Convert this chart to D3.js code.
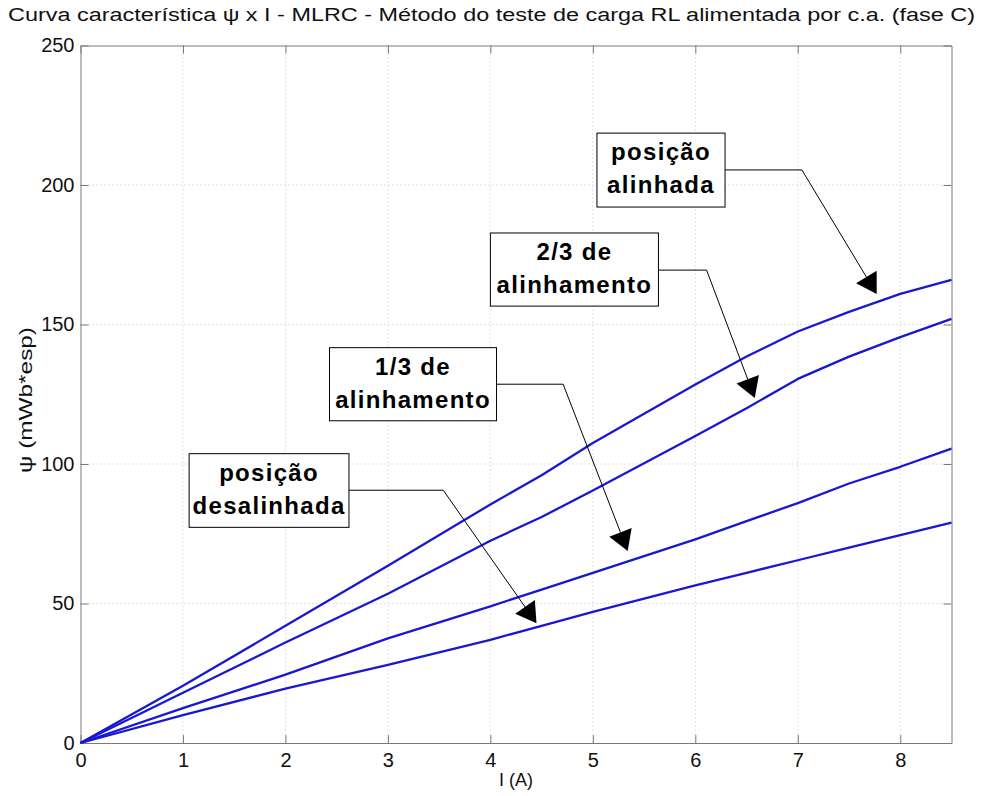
<!DOCTYPE html>
<html>
<head>
<meta charset="utf-8">
<script src="https://cdn.jsdelivr.net/npm/d3@7"></script>
<style>
  body { margin: 0; background: #fff; }
  svg { font-family: "Liberation Sans", Arial, sans-serif; }
</style>
</head>
<body>
<div id="chart"></div>
<script>
// corrente (A) e fluxo concatenado (mWb*esp)
var current = [0, 1, 2, 3, 4, 4.5, 5, 6, 6.5, 7, 7.5, 8, 8.5];
var fluxAligned = [0, 20.5, 42, 63.5, 85.5, 96, 107.5, 128.5, 138.5, 147.5, 154.5, 161, 166];
var fluxTwoThirds = [0, 18, 36, 53.5, 72.5, 81, 90.5, 110, 120, 130.5, 138.5, 145.5, 152];
var fluxOneThird = [0, 12.5, 24.5, 37.5, 49, 55, 61, 73, 79.5, 86, 93, 99, 105.5];
var fluxUnaligned = [0, 10, 19.5, 28, 37, 42, 47, 56.5, 61, 65.5, 70, 74.5, 79];

var xTicks = [0, 1, 2, 3, 4, 5, 6, 7, 8];
var yTicks = [0, 50, 100, 150, 200, 250];

// caixas de texto com seta (em unidades dos eixos)
var notes = [
  { lines: ["posição", "alinhada"], x0: 5.04, x1: 6.29, y0: 218.6, y1: 192.1, ly: 205.4, ex: 7.04, tx: 7.77, ty: 160.9 },
  { lines: ["2/3 de", "alinhamento"], x0: 4.0, x1: 5.64, y0: 182.8, y1: 156.6, ly: 169.5, ex: 6.11, tx: 6.58, ty: 123.7 },
  { lines: ["1/3 de", "alinhamento"], x0: 2.43, x1: 4.06, y0: 141.7, y1: 115.5, ly: 128.6, ex: 4.71, tx: 5.34, ty: 68.8 },
  { lines: ["posição", "desalinhada"], x0: 1.06, x1: 2.62, y0: 103.7, y1: 77.3, ly: 90.6, ex: 3.54, tx: 4.45, ty: 42.9 }
];

var width = 981, height = 796;
var plotLeft = 80.5, plotRight = 951.5, plotTop = 45.5, plotBottom = 743;

var svg = d3.select("#chart").append("svg")
    .attr("width", width)
    .attr("height", height);

var x = d3.scaleLinear().domain([0, 8.5]).range([plotLeft, plotRight]);
var y = d3.scaleLinear().domain([0, 250]).range([plotBottom, plotTop]);

// grade pontilhada
svg.append("g").selectAll("line")
    .data(xTicks.filter(function (d) { return d > 0; }))
    .enter().append("line")
    .attr("x1", function (d) { return x(d); })
    .attr("x2", function (d) { return x(d); })
    .attr("y1", plotTop).attr("y2", plotBottom)
    .attr("stroke", "#c4c4c4")
    .attr("stroke-dasharray", "1,3");
svg.append("g").selectAll("line")
    .data(yTicks.filter(function (d) { return d > 0 && d < 250; }))
    .enter().append("line")
    .attr("y1", function (d) { return y(d); })
    .attr("y2", function (d) { return y(d); })
    .attr("x1", plotLeft).attr("x2", plotRight)
    .attr("stroke", "#c4c4c4")
    .attr("stroke-dasharray", "1,3");

// eixos
var axisColor = "#7a7a7a";
function styleAxis(g, labels) {
    g.select(".domain").attr("stroke", axisColor);
    g.selectAll(".tick line").attr("stroke", axisColor);
    g.selectAll(".tick text")
        .attr("fill", labels ? "#111" : "none")
        .style("font-size", "20px")
        .style("font-family", "'Liberation Sans', Arial, sans-serif");
}

svg.append("g")
    .attr("transform", "translate(0," + plotBottom + ")")
    .call(d3.axisBottom(x).tickValues(xTicks).tickSizeInner(-8).tickSizeOuter(0).tickPadding(10))
    .call(styleAxis, true);
svg.append("g")
    .attr("transform", "translate(" + plotLeft + ",0)")
    .call(d3.axisLeft(y).tickValues(yTicks).tickSizeInner(-8).tickSizeOuter(0).tickPadding(6))
    .call(styleAxis, true);
svg.append("g")
    .attr("transform", "translate(0," + plotTop + ")")
    .call(d3.axisTop(x).tickValues(xTicks).tickSizeInner(-8).tickSizeOuter(0).tickFormat(""))
    .call(styleAxis, false);
svg.append("g")
    .attr("transform", "translate(" + plotRight + ",0)")
    .call(d3.axisRight(y).tickValues(yTicks).tickSizeInner(-8).tickSizeOuter(0).tickFormat(""))
    .call(styleAxis, false);

// curvas
var series = [fluxAligned, fluxTwoThirds, fluxOneThird, fluxUnaligned];
var line = d3.line()
    .x(function (d) { return x(d[0]); })
    .y(function (d) { return y(d[1]); });

svg.append("g").selectAll("path")
    .data(series)
    .enter().append("path")
    .attr("d", function (s) { return line(d3.zip(current, s)); })
    .attr("fill", "none")
    .attr("stroke", "#1818d2")
    .attr("stroke-width", 2.3)
    .attr("stroke-linejoin", "round");

// anotações
var ann = svg.append("g");
notes.forEach(function (n) {
    var bx = x(n.x0), by = y(n.y0), bw = x(n.x1) - x(n.x0), bh = y(n.y1) - y(n.y0);
    var ly = y(n.ly), ex = x(n.ex), tx = x(n.tx), ty = y(n.ty);
    var dx = tx - ex, dy = ty - ly, len = Math.sqrt(dx * dx + dy * dy);
    var ux = dx / len, uy = dy / len;
    var baseX = tx - 20 * ux, baseY = ty - 20 * uy;

    ann.append("polyline")
        .attr("points", [[x(n.x1), ly], [ex, ly], [baseX, baseY]].join(" "))
        .attr("fill", "none")
        .attr("stroke", "#000")
        .attr("stroke-width", 1);
    ann.append("polygon")
        .attr("points", [[tx, ty], [baseX - 12 * uy, baseY + 12 * ux], [baseX + 12 * uy, baseY - 12 * ux]].join(" "))
        .attr("fill", "#000");

    ann.append("rect")
        .attr("x", bx).attr("y", by)
        .attr("width", bw).attr("height", bh)
        .attr("fill", "#fff")
        .attr("stroke", "#000")
        .attr("stroke-width", 1);
    ann.append("text")
        .attr("x", bx + bw / 2)
        .attr("y", by + 27)
        .attr("text-anchor", "middle")
        .style("font-size", "24px")
        .style("font-weight", "bold")
        .style("letter-spacing", "1.3px")
        .selectAll("tspan")
        .data(n.lines)
        .enter().append("tspan")
        .attr("x", bx + bw / 2)
        .attr("dy", function (d, i) { return i === 0 ? 0 : 33; })
        .text(function (d) { return d; });
});

// títulos
svg.append("text")
    .attr("x", 8)
    .attr("y", 21)
    .attr("textLength", 967)
    .attr("lengthAdjust", "spacingAndGlyphs")
    .style("font-size", "18px")
    .attr("fill", "#111")
    .text("Curva característica ψ x I - MLRC - Método do teste de carga RL alimentada por c.a. (fase C)");

svg.append("text")
    .attr("x", (plotLeft + plotRight) / 2)
    .attr("y", 786)
    .attr("text-anchor", "middle")
    .style("font-size", "18px")
    .attr("fill", "#111")
    .text("I (A)");

svg.append("text")
    .attr("transform", "translate(32,400) rotate(-90)")
    .attr("text-anchor", "middle")
    .attr("textLength", 146)
    .attr("lengthAdjust", "spacingAndGlyphs")
    .style("font-size", "19px")
    .attr("fill", "#111")
    .text("ψ (mWb*esp)");
</script>
</body>
</html>
